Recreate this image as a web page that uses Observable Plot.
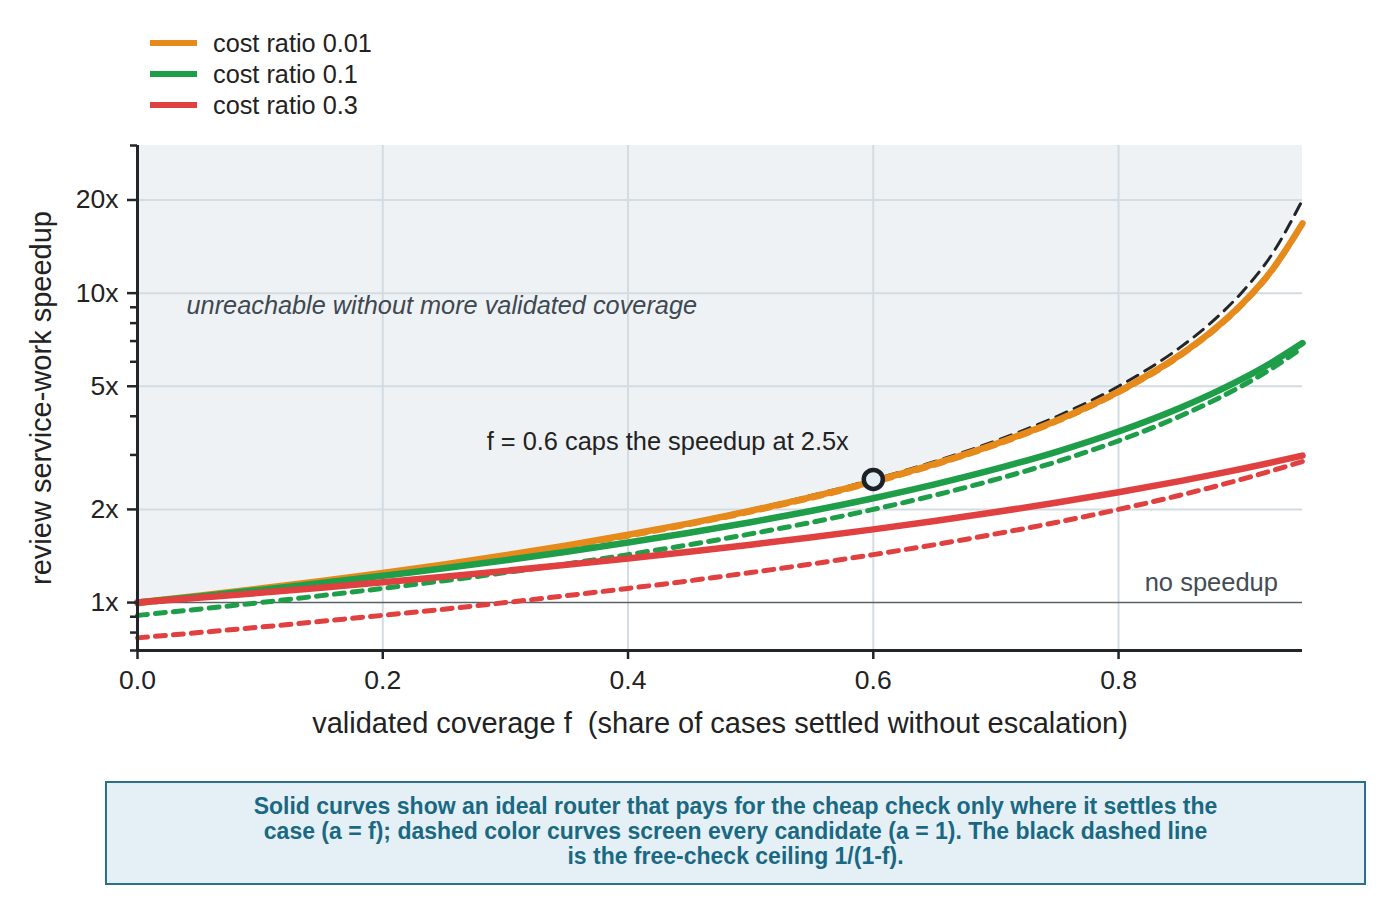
<!DOCTYPE html>
<html>
<head>
<meta charset="utf-8">
<script src="https://cdn.jsdelivr.net/npm/d3@7"></script>
<script src="https://cdn.jsdelivr.net/npm/@observablehq/plot@0.6"></script>
<style>
  html, body { margin: 0; padding: 0; background: #fff; }
  #wrap { position: relative; width: 1395px; height: 915px; font-family: "Liberation Sans", Arial, sans-serif; }
  #legend { position: absolute; left: 150px; top: 28px; }
  .item { position: relative; height: 31px; }
  .sw { position: absolute; left: 0; top: 12px; width: 47px; height: 6px; }
  .lab { position: absolute; left: 63px; top: 0; font-size: 25.3px; line-height: 31px; color: #222; white-space: nowrap; }
  #chart { position: absolute; left: 0; top: 130px; }
  #caption { position: absolute; left: 105px; top: 781px; width: 1257px; height: 100px; border: 2px solid #2b6f88; background: #e4f0f6;
             box-sizing: content-box; color: #1a6882; font-weight: bold; font-size: 23px; line-height: 25px; text-align: center; }
  #caption div { padding-top: 11px; }
</style>
</head>
<body>
<div id="wrap">
  <div id="legend"></div>
  <div id="chart"></div>
  <div id="caption"><div>Solid curves show an ideal router that pays for the cheap check only where it settles the<br>case (a = f); dashed color curves screen every candidate (a = 1). The black dashed line<br>is the free-check ceiling 1/(1-f).</div></div>
</div>
<script>
// validated coverage f
const coverage   = [0, 0.05, 0.1, 0.15, 0.2, 0.25, 0.3, 0.35, 0.4, 0.45, 0.5, 0.55, 0.6, 0.65, 0.7, 0.75, 0.8, 0.85, 0.875, 0.9, 0.925, 0.95];
// free-check ceiling (black dashed)
const ceiling    = [1, 1.053, 1.111, 1.176, 1.25, 1.333, 1.429, 1.538, 1.667, 1.818, 2, 2.222, 2.5, 2.857, 3.333, 4, 5, 6.667, 8, 10, 13.33, 20];
// solid curves (a = f)
const solid001   = [1, 1.052, 1.110, 1.174, 1.247, 1.329, 1.423, 1.530, 1.656, 1.803, 1.980, 2.195, 2.463, 2.805, 3.257, 3.884, 4.808, 6.309, 7.477, 9.174, 11.87, 16.81];
const solid01    = [1, 1.047, 1.099, 1.156, 1.220, 1.290, 1.370, 1.460, 1.563, 1.681, 1.818, 1.980, 2.174, 2.410, 2.703, 3.077, 3.571, 4.255, 4.706, 5.263, 5.970, 6.897];
const solid03    = [1, 1.036, 1.075, 1.117, 1.163, 1.212, 1.266, 1.325, 1.389, 1.460, 1.538, 1.626, 1.724, 1.835, 1.961, 2.105, 2.273, 2.469, 2.581, 2.703, 2.837, 2.985];
// dashed curves (a = 1)
const dashed001  = [0.990, 1.042, 1.099, 1.163, 1.235, 1.316, 1.408, 1.515, 1.639, 1.786, 1.961, 2.174, 2.439, 2.778, 3.226, 3.846, 4.762, 6.250, 7.407, 9.091, 11.76, 16.67];
const dashed01   = [0.909, 0.952, 1, 1.053, 1.111, 1.176, 1.25, 1.333, 1.429, 1.538, 1.667, 1.818, 2, 2.222, 2.5, 2.857, 3.333, 4, 4.444, 5, 5.714, 6.667];
const dashed03   = [0.769, 0.8, 0.833, 0.870, 0.909, 0.952, 1, 1.053, 1.111, 1.176, 1.25, 1.333, 1.429, 1.538, 1.667, 1.818, 2, 2.222, 2.353, 2.5, 2.667, 2.857];

const seriesNames  = ["cost ratio 0.01", "cost ratio 0.1", "cost ratio 0.3"];
const seriesColors = ["#e68a1c", "#1f9e4a", "#e0403f"];

const xTicks = [0, 0.2, 0.4, 0.6, 0.8];
const yMajor = [1, 2, 5, 10, 20];
const yMinor = [0.7, 0.8, 0.9, 3, 4, 6, 7, 8, 9, 30];
const yTop = 30, yBottom = 0.7, xMax = 0.95;

const markerF = [0.6];
const markerS = [2.5];

// legend
const leg = document.getElementById("legend");
seriesNames.forEach((n, i) => {
  const it = document.createElement("div"); it.className = "item";
  it.innerHTML = `<div class="sw" style="background:${seriesColors[i]}"></div><div class="lab">${n}</div>`;
  leg.appendChild(it);
});

const rows = (ys) => coverage.map((f, i) => ({f, s: ys[i]}));
const ceilRows = rows(ceiling);
const solids = [solid001, solid01, solid03];
const dasheds = [dashed001, dashed01, dashed03];
const curve = "monotone-x";

const marks = [
  Plot.areaY(ceilRows, {x: "f", y1: "s", y2: () => yTop, fill: "#eef2f5", curve}),
  Plot.gridX(xTicks.filter(d => d > 0), {stroke: "#d3dce2", strokeOpacity: 1, strokeWidth: 2}),
  Plot.gridY(yMajor.filter(d => d !== 1), {stroke: "#d3dce2", strokeOpacity: 1, strokeWidth: 2}),
  Plot.ruleY([1], {stroke: "#5b6168", strokeWidth: 1.5}),
];
dasheds.forEach((ys, i) => marks.push(Plot.line(rows(ys), {x: "f", y: "s", stroke: seriesColors[i], strokeWidth: 5, strokeDasharray: "10,8", curve})));
marks.push(Plot.line(ceilRows, {x: "f", y: "s", stroke: "#22262a", strokeWidth: 3, strokeDasharray: "12,8", curve}));
solids.forEach((ys, i) => marks.push(Plot.line(rows(ys), {x: "f", y: "s", stroke: seriesColors[i], strokeWidth: 6.5, curve})));
marks.push(
  Plot.dot(markerF.map((f, i) => ({f, s: markerS[i]})), {x: "f", y: "s", r: 9.5, fill: "#e3eef4", stroke: "#1c2127", strokeWidth: 4.5}),
  Plot.text(["f = 0.6 caps the speedup at 2.5x"], {x: 0.58, y: 3.3, textAnchor: "end", fontSize: 25.4, fill: "#222"}),
  Plot.text(["unreachable without more validated coverage"], {x: 0.04, y: 9.1, textAnchor: "start", fontSize: 25.3, fontStyle: "italic", fill: "#3e4850"}),
  Plot.text(["no speedup"], {x: 0.93, y: 1.16, textAnchor: "end", fontSize: 25.5, fill: "#444c54"}),
  Plot.ruleX([0], {stroke: "#22262a", strokeWidth: 3}),
  Plot.ruleY([yBottom], {stroke: "#22262a", strokeWidth: 3}),
  Plot.axisY(yMinor, {tickSize: 7, tickFormat: () => "", stroke: "#22262a", strokeWidth: 2.5, label: null}),
  Plot.axisY(yMajor, {tickSize: 10, tickPadding: 9, fontSize: 26.5, tickFormat: d => d + "x", stroke: "#22262a", strokeWidth: 2.5,
    label: null}),
  Plot.axisX(xTicks, {tickSize: 9, tickPadding: 11, fontSize: 26.5, tickFormat: d => d.toFixed(1), stroke: "#22262a", strokeWidth: 2.5,
    label: null}),
  Plot.axisY({ticks: [], tickSize: 0, fontSize: 29, label: "review service-work speedup", labelAnchor: "center", labelArrow: "none", labelOffset: 107}),
  Plot.axisX({ticks: [], tickSize: 0, fontSize: 29, label: "validated coverage f\u00a0 (share of cases settled without escalation)", labelAnchor: "center", labelArrow: "none", labelOffset: 82})
);

const plot = Plot.plot({
  width: 1395,
  height: 620,
  marginTop: 15,
  marginBottom: 100,
  marginLeft: 137,
  marginRight: 93,
  style: {fontFamily: "Liberation Sans, Arial, sans-serif", fontSize: "26.5px", color: "#222", background: "transparent"},
  x: {domain: [0, xMax]},
  y: {type: "log", domain: [yBottom, yTop]},
  marks
});
document.getElementById("chart").appendChild(plot);
</script>
</body>
</html>
